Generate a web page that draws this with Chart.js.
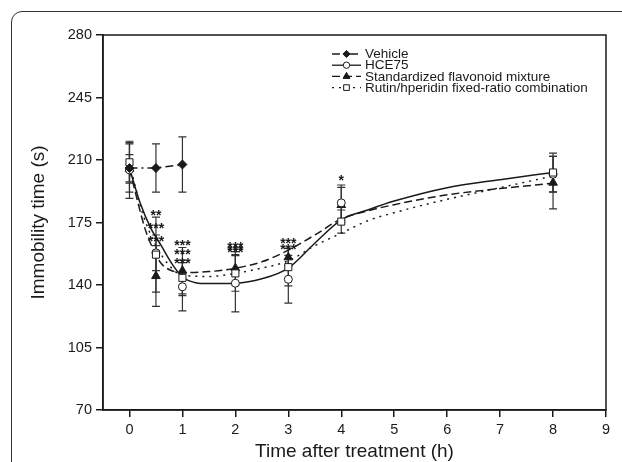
<!DOCTYPE html>
<html lang="en">
<head>
<meta charset="UTF-8">
<title>Immobility time after treatment</title>
<script src="https://cdn.jsdelivr.net/npm/chart.js"></script>
<style>
  html, body { margin: 0; padding: 0; background: #fff; overflow: hidden; }
  #wrap { position: relative; width: 622px; height: 462px; overflow: hidden; }
  #frame { position: absolute; left: 11px; top: 11px; width: 700px; height: 600px;
           border: 1.5px solid #333; border-radius: 11px; }
  #chart { position: absolute; left: 0; top: 0; }
</style>
</head>
<body>
<div id="wrap">
  <div id="frame"></div>
  <canvas id="chart" width="622" height="462"></canvas>
</div>
<script>
// measured time points (h)
const times = [0, 0.5, 1, 2, 3, 4, 8];
const vehicleTimes = [0, 0.5, 1];

// means and error bars (s)
const vehicleMean = [205.5, 205.5, 207.5];
const vehicleErr = [13.5, 13.5, 15.5];
const hceMean = [204.5, 158, 139, 141, 143.2, 186, 202];
const hceErr = [16, 10, 13.5, 16, 13.4, 10, 10];
const flavMean = [205, 145, 148, 149.4, 155.5, 184.8, 197.3];
const flavErr = [8, 17, 13, 9.3, 5, 9.9, 14.7];
const rutinMean = [208.7, 157, 144, 146.5, 150, 175.5, 203];
const rutinErr = [11, 21, 10, 10, 10.5, 6.5, 10.8];

// fitted curves
const hceCurveT = [0, 0.2, 0.4, 0.6, 0.8, 1, 1.25, 1.5, 2, 2.5, 3, 3.5, 4, 4.5, 5, 6, 7, 8];
const hceCurveV = [205.5, 186, 172, 162, 152, 144.5, 141.3, 140.8, 141, 143.5, 149.5, 163.4, 176.5, 182, 187, 194.5, 199, 203];
const flavCurveT = [0, 0.3, 0.45, 0.6, 0.8, 1, 1.5, 2, 2.5, 3, 3.5, 4, 4.5, 5, 6, 7, 8];
const flavCurveV = [205, 171, 160, 152, 148, 147, 147.5, 149.4, 153, 159.5, 168, 177, 181.5, 185, 190.5, 194, 197];
const rutinCurveT = [0, 0.25, 0.5, 0.75, 1, 1.5, 2, 2.5, 3, 3.5, 4, 4.5, 5, 6, 7, 8];
const rutinCurveV = [208, 180, 162, 151, 145.5, 144.8, 146.5, 149.5, 153.5, 162, 169, 176, 180.5, 188, 194.5, 201];

// significance marks
const starTimes = [0.5, 0.5, 0.5, 1, 1, 1, 2, 2, 2, 3, 3, 4];
const starValues = [180.7, 173.6, 166.5, 164.3, 159.2, 154, 163, 161.5, 160, 165.2, 161.9, 200.3];
const starLabels = ['**', '***', '***', '***', '***', '***', '***', '***', '***', '***', '***', '*'];

const xTicks = [0, 1, 2, 3, 4, 5, 6, 7, 8, 9];
const legendLabels = ['Vehicle', 'HCE75', 'Standardized flavonoid mixture', 'Rutin/hperidin fixed-ratio combination'];

const FONT = "'Liberation Sans', Arial, sans-serif";
const INK = '#1a1a1a';

const pts = (t, v) => t.map((x, i) => ({ x: x, y: v[i] }));

const styles = [
  { pointStyle: 'rectRot', radius: 4.5, fill: INK, dash: [8, 4, 2, 4] },
  { pointStyle: 'circle', radius: 4, fill: '#fff', dash: [] },
  { pointStyle: 'triangle', radius: 5, fill: INK, dash: [8, 4] },
  { pointStyle: 'rect', radius: 5, fill: '#fff', dash: [2, 5] }
];

const errorBars = {
  id: 'errorBars',
  beforeDatasetsDraw(chart) {
    const { ctx, scales: { x, y } } = chart;
    ctx.save();
    ctx.strokeStyle = '#333';
    ctx.lineWidth = 1.2;
    chart.data.datasets.forEach(ds => {
      if (!ds.errors) return;
      ds.data.forEach((p, i) => {
        const px = x.getPixelForValue(p.x);
        const top = y.getPixelForValue(p.y + ds.errors[i]);
        const bot = y.getPixelForValue(p.y - ds.errors[i]);
        ctx.beginPath();
        ctx.moveTo(px, top); ctx.lineTo(px, bot);
        ctx.moveTo(px - 4, top); ctx.lineTo(px + 4, top);
        ctx.moveTo(px - 4, bot); ctx.lineTo(px + 4, bot);
        ctx.stroke();
      });
    });
    // box round the plot
    const a = chart.chartArea;
    ctx.strokeStyle = INK;
    ctx.lineWidth = 1.5;
    ctx.strokeRect(a.left, a.top, a.right - a.left, a.bottom - a.top);
    ctx.restore();
  },
  afterDatasetsDraw(chart) {
    const { ctx, scales: { x, y } } = chart;
    ctx.save();
    ctx.fillStyle = INK;
    ctx.font = 'bold 14px ' + FONT;
    ctx.textAlign = 'center';
    ctx.textBaseline = 'alphabetic';
    starTimes.forEach((t, i) => {
      ctx.fillText(starLabels[i], x.getPixelForValue(t), y.getPixelForValue(starValues[i]) + 8);
    });
    ctx.restore();
  }
};

const legendBox = {
  id: 'legendBox',
  afterDraw(chart) {
    const ctx = chart.ctx;
    ctx.save();
    legendLabels.forEach((label, i) => {
      const st = styles[i];
      const yy = 54 + i * 11.2;
      ctx.strokeStyle = INK;
      ctx.lineWidth = 1.3;
      ctx.setLineDash(st.dash);
      ctx.beginPath();
      ctx.moveTo(332, yy); ctx.lineTo(361, yy);
      ctx.stroke();
      ctx.setLineDash([]);
      ctx.fillStyle = st.fill;
      ctx.lineWidth = 1;
      Chart.helpers.drawPoint(ctx, { pointStyle: st.pointStyle, radius: st.radius * 0.8, borderWidth: 1, rotation: 0 }, 346.5, yy);
      ctx.fillStyle = INK;
      ctx.font = '13.5px ' + FONT;
      ctx.textAlign = 'left';
      ctx.textBaseline = 'middle';
      ctx.fillText(label, 365, yy + 0.5);
    });
    ctx.restore();
  }
};

function markerSet(t, v, err, i, extra) {
  const st = styles[i];
  return Object.assign({
    data: pts(t, v),
    errors: err,
    showLine: false,
    pointStyle: st.pointStyle,
    pointRadius: st.radius,
    pointBackgroundColor: st.fill,
    pointBorderColor: INK,
    pointBorderWidth: 1,
    borderColor: INK
  }, extra || {});
}

function curveSet(t, v, i) {
  return {
    data: pts(t, v),
    pointRadius: 0,
    borderColor: INK,
    borderWidth: 1.5,
    borderDash: styles[i].dash,
    cubicInterpolationMode: 'monotone',
    fill: false
  };
}

new Chart(document.getElementById('chart'), {
  type: 'line',
  data: {
    datasets: [
      markerSet(vehicleTimes, vehicleMean, vehicleErr, 0, { showLine: true, borderWidth: 1.5, borderDash: styles[0].dash }),
      markerSet(times, rutinMean, rutinErr, 3),
      markerSet(times, hceMean, hceErr, 1),
      markerSet(times, flavMean, flavErr, 2),
      curveSet(hceCurveT, hceCurveV, 1),
      curveSet(flavCurveT, flavCurveV, 2),
      curveSet(rutinCurveT, rutinCurveV, 3)
    ]
  },
  options: {
    responsive: false,
    animation: false,
    layout: { padding: { top: 35, right: 16, left: 0, bottom: 0 } },
    plugins: { legend: { display: false }, tooltip: { enabled: false } },
    scales: {
      x: {
        type: 'linear',
        min: -0.5,
        max: 9,
        afterBuildTicks: s => { s.ticks = xTicks.map(v => ({ value: v })); },
        afterFit: s => { s.height = 52; },
        border: { display: true, color: INK, width: 1.5 },
        grid: { drawOnChartArea: false, drawTicks: true, tickLength: 7, color: INK, lineWidth: 1.5 },
        ticks: { color: INK, font: { family: FONT, size: 14.5 }, padding: 4 },
        title: { display: true, text: 'Time after treatment (h)', color: INK,
                 font: { family: FONT, size: 19 }, padding: { top: 0, bottom: -1 } }
      },
      y: {
        min: 70,
        max: 280,
        afterFit: s => { s.width = 103; },
        border: { display: true, color: INK, width: 1.5 },
        grid: { drawOnChartArea: false, drawTicks: true, tickLength: 7, color: INK, lineWidth: 1.5 },
        ticks: { stepSize: 35, color: INK, font: { family: FONT, size: 14.5 }, padding: 4 },
        title: { display: true, text: 'Immobility time (s)', color: INK,
                 font: { family: FONT, size: 19 }, padding: { top: 27, bottom: 0 } }
      }
    }
  },
  plugins: [errorBars, legendBox]
});
</script>
</body>
</html>
